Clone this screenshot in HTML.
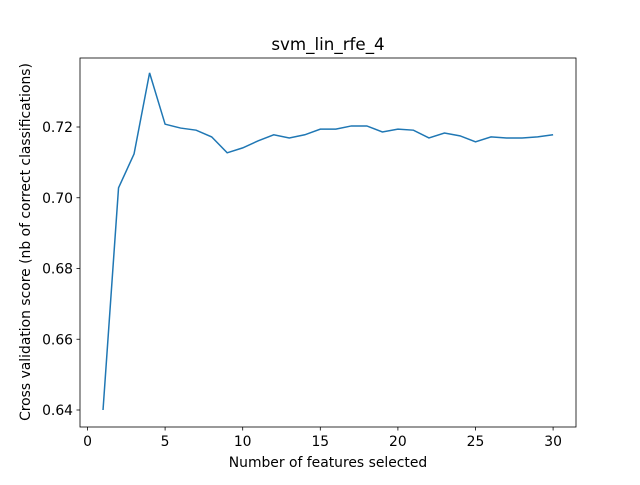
<!DOCTYPE html>
<html><head><meta charset="utf-8"><style>
body{margin:0;background:#fff}
svg text{font-family:"DejaVu Sans","Liberation Sans",sans-serif;fill:#000}
</style></head><body>
<svg id="chart" width="640" height="480">
<rect width="640" height="480" fill="#fff"/>
<text x="328" y="50" font-size="16.7" text-anchor="middle">svm_lin_rfe_4</text>
<g id="ticks"></g>
<path id="line" fill="none" stroke="#1f77b4" stroke-width="1.5"/>
<rect x="80" y="58" width="496" height="369" fill="none" stroke="#000" stroke-width="0.8"/>
<text x="328" y="467" font-size="13.9" text-anchor="middle">Number of features selected</text>
<text transform="translate(30,242) rotate(-90)" font-size="13.9" text-anchor="middle">Cross validation score (nb of correct classifications)</text>
</svg>
<script>
const features=[1,2,3,4,5,6,7,8,9,10,11,12,13,14,15,16,17,18,19,20,21,22,23,24,25,26,27,28,29,30];
const scores=[0.640,0.7028,0.7124,0.7353,0.7208,0.7197,0.7191,0.7172,0.7127,0.7141,0.7161,0.7178,0.7169,0.7178,0.7194,0.7194,0.7203,0.7203,0.7186,0.7194,0.7191,0.7169,0.7183,0.7175,0.7158,0.7172,0.7169,0.7169,0.7172,0.7178];
const xTicks=[0,5,10,15,20,25,30];
const yTicks=[0.64,0.66,0.68,0.70,0.72];
const yLabels=["0.64","0.66","0.68","0.70","0.72"];
const X=v=>87.5+v*15.52;
const Y=v=>127+(0.72-v)*3537.5;
const ns="http://www.w3.org/2000/svg";
const g=document.getElementById('ticks');
function mk(t,a){const e=document.createElementNS(ns,t);for(const k in a)e.setAttribute(k,a[k]);g.appendChild(e);return e;}
xTicks.forEach(v=>{
 const l=mk('line',{x1:X(v),x2:X(v),y1:427,y2:430.5,stroke:'#000','stroke-width':0.8});
 
 
 const t=mk('text',{x:X(v),y:446,'font-size':13.9,'text-anchor':'middle'});t.textContent=v;
 
 
});
yTicks.forEach((v,i)=>{
 const l=mk('line',{x1:76.5,x2:80,y1:Y(v),y2:Y(v),stroke:'#000','stroke-width':0.8});
 
 
 const t=mk('text',{x:73,y:Y(v)+5,'font-size':13.9,'text-anchor':'end'});t.textContent=yLabels[i];
 
 
});
document.getElementById('line').setAttribute('d',features.map((f,i)=>(i?'L':'M')+X(f)+','+Y(scores[i])).join(''));
</script>
</body></html>
